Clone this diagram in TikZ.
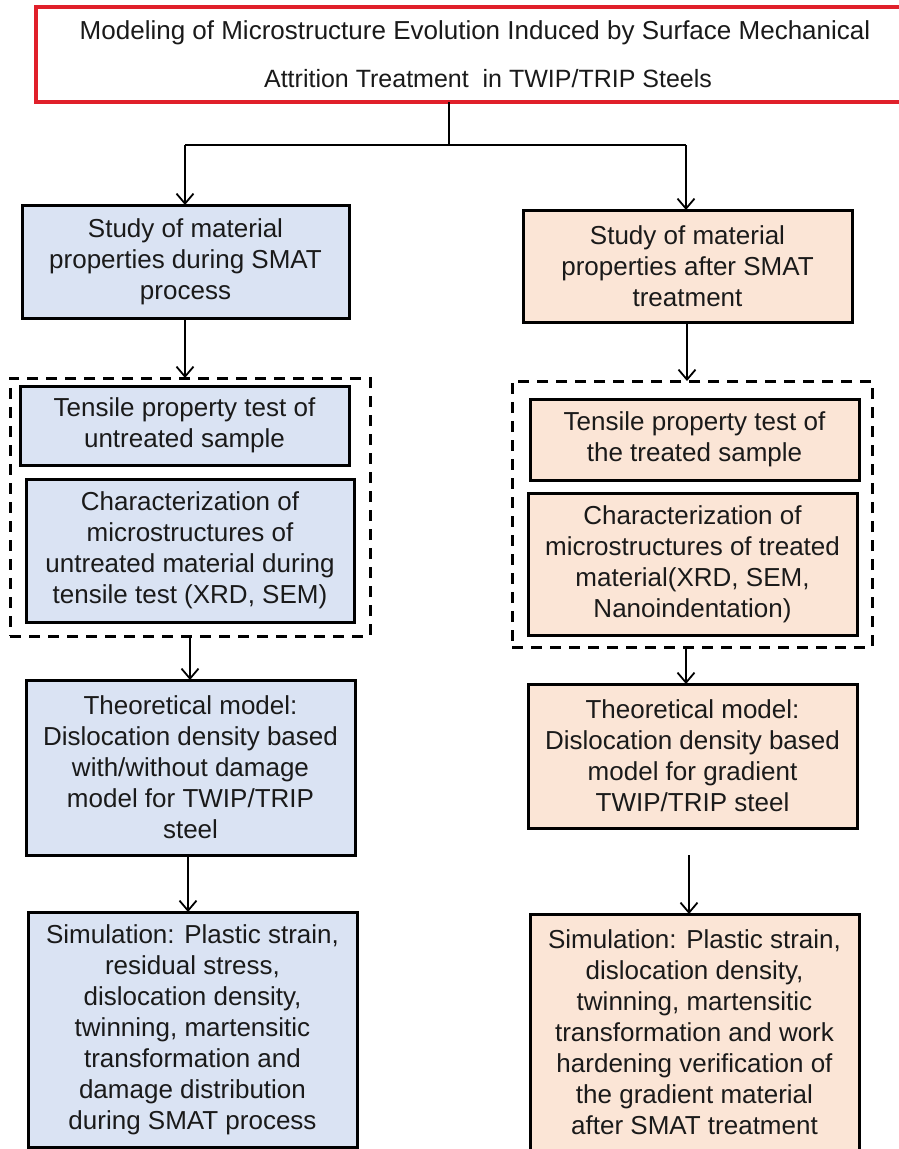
\documentclass[tikz,border=0pt]{standalone}
\usepackage{fontspec}
\setmainfont{Liberation Sans}
\usetikzlibrary{arrows.meta}
\definecolor{bluefill}{HTML}{DAE3F3}
\definecolor{peachfill}{HTML}{FBE5D6}
\definecolor{titlered}{HTML}{E0202A}
\definecolor{txt}{HTML}{1A1A1A}
\tikzset{
  box/.style={draw=black, line width=3pt, inner sep=0pt, outer sep=0pt, align=center,
    text=txt, font=\fontsize{26}{31}\selectfont},
  bluebox/.style={box, fill=bluefill},
  peachbox/.style={box, fill=peachfill},
  dashbox/.style={draw=black, line width=3pt, dash pattern=on 11pt off 8pt, inner sep=0pt, outer sep=0pt},
  titlebox/.style={draw=titlered, line width=3.5pt, fill=white, inner sep=0pt, outer sep=0pt},
  titletext/.style={text=txt, font=\fontsize{26}{48}\selectfont, inner sep=0pt},
  arr/.style={line width=1.8pt, -{Straight Barb[length=10pt,width=17pt,line width=1.8pt]}},
  conn/.style={line width=2.6pt},
}
\newcommand{\boxat}[6]{%
  \node[#1, minimum width={#4-#2}, minimum height={#5-#3}] (#6) at ({(#2+#4)/2},{(#3+#5)/2})}
\begin{document}
\begin{tikzpicture}[x=1pt,y=-1pt]
\useasboundingbox (0,0) rectangle (899,1149);
\fill[white] (0,0) rectangle (899,1149);
% title
\boxat{titlebox}{36}{7}{926}{102}{title} {};
\node[titletext] (t1) at (475,33) {Modeling of Microstructure Evolution Induced by Surface Mechanical};
\node[titletext, font=\fontsize{25}{48}\selectfont] (t2) at (488,79) {Attrition Treatment\ \ in TWIP/TRIP Steels};
% dashed groups
\boxat{dashbox}{10}{378}{370}{636}{LD} {};
\boxat{dashbox}{512}{381}{872}{647}{RD} {};
% left column
\boxat{bluebox}{22}{205}{349}{318}{L1} {Study of material\\properties during SMAT\\process};
\boxat{bluebox}{20}{386}{349}{465}{LT} {Tensile property test of\\untreated sample};
\boxat{bluebox}{26}{479}{354}{622}{LC} {Characterization of\\microstructures of\\untreated material during\\tensile test (XRD, SEM)};
\boxat{bluebox}{26}{680}{355}{855}{LTh} {Theoretical model:\\Dislocation density based\\with/without damage\\model for TWIP/TRIP\\steel};
\boxat{bluebox}{28}{912}{357}{1147}{LS} {Simulation: Plastic strain,\\residual stress,\\dislocation density,\\twinning, martensitic\\transformation and\\damage distribution\\during SMAT process};
% right column
\boxat{peachbox}{523}{210}{852}{322}{R1} {Study of material\\properties after SMAT\\treatment};
\boxat{peachbox}{530}{399}{859}{480}{RT} {Tensile property test of\\the treated sample};
\boxat{peachbox}{528}{493}{857}{635}{RC} {Characterization of\\microstructures of treated\\material(XRD, SEM,\\Nanoindentation)};
\boxat{peachbox}{528}{684}{857}{828}{RTh} {Theoretical model:\\Dislocation density based\\model for gradient\\TWIP/TRIP steel};
\boxat{peachbox}{530}{914}{859}{1151}{RS} {Simulation: Plastic strain,\\dislocation density,\\twinning, martensitic\\transformation and work\\hardening verification of\\the gradient material\\after SMAT treatment};
% connectors
\coordinate (split) at (449,145);
\coordinate (splitL) at (185,145);
\coordinate (splitR) at (686,145);
\draw[conn] (title.south -| split) -- (split);
\draw[conn] (splitL) -- (splitR);
\draw[arr] (splitL) -- (L1.north -| splitL);
\draw[arr] (splitR) -- (R1.north -| splitR);
\draw[arr] (L1.south -| 185,0) -- (LD.north -| 185,0);
\draw[arr] (R1.south -| 687,0) -- (RD.north -| 687,0);
\draw[arr] (LD.south -| 190,0) -- (LTh.north -| 190,0);
\draw[arr] (RD.south -| 686,0) -- (RTh.north -| 686,0);
\draw[arr] (LTh.south -| 188,0) -- (LS.north -| 188,0);
\coordinate (rfree) at (689,855);
\draw[arr] (rfree) -- (RS.north -| rfree);
\end{tikzpicture}
\end{document}
